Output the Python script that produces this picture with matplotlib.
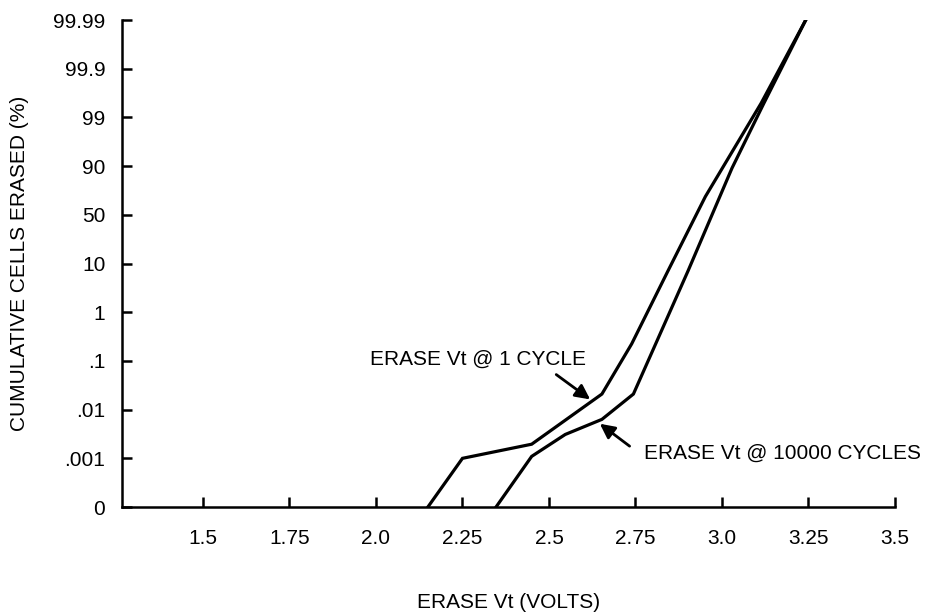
import numpy as np
import matplotlib.pyplot as plt

plt.rcParams['font.family'] = ['Liberation Sans', 'DejaVu Sans']

# y axis is a ladder of equally spaced bands, positions are band index
y_ticklabels = ['0', '.001', '.01', '.1', '1', '10', '50', '90', '99', '99.9', '99.99']
x_ticks = [1.5, 1.75, 2.0, 2.25, 2.5, 2.75, 3.0, 3.25, 3.5]
x_ticklabels = ['1.5', '1.75', '2.0', '2.25', '2.5', '2.75', '3.0', '3.25', '3.5']

# erase Vt distribution after 1 cycle
vt_1cycle = [2.15, 2.25, 2.45, 2.653, 2.739, 2.844, 2.952, 3.113, 3.242]
lvl_1cycle = [0, 1.0, 1.29, 2.32, 3.35, 4.85, 6.375, 8.29, 10]

# erase Vt distribution after 10000 cycles
vt_10k = [2.347, 2.45, 2.547, 2.653, 2.744, 2.902, 3.029, 3.121, 3.242]
lvl_10k = [0, 1.04, 1.49, 1.80, 2.32, 4.85, 6.96, 8.29, 10]

fig = plt.figure(figsize=(9.29, 6.16), dpi=100)
ax = fig.add_axes([0.1313, 0.1769, 0.9634 - 0.1313, 0.9675 - 0.1769])

ax.plot(vt_1cycle, lvl_1cycle, color='black', lw=2.3, solid_joinstyle='miter')
ax.plot(vt_10k, lvl_10k, color='black', lw=2.3, solid_joinstyle='miter')

ax.set_xlim(1.266, 3.5)
ax.set_ylim(0, 10)

ax.set_xticks(x_ticks)
ax.set_xticklabels(x_ticklabels)
ax.set_yticks(np.arange(len(y_ticklabels)))
ax.set_yticklabels(y_ticklabels)

for s in ['top', 'right']:
    ax.spines[s].set_visible(False)
for s in ['left', 'bottom']:
    ax.spines[s].set_linewidth(1.8)

ax.tick_params(axis='x', direction='in', length=7, width=1.8, labelsize=15, pad=16)
ax.tick_params(axis='y', direction='in', length=7, width=1.8, labelsize=15, pad=12)

ax.set_xlabel('ERASE Vt (VOLTS)', fontsize=15, labelpad=32)
ax.set_ylabel('CUMULATIVE CELLS ERASED (%)', fontsize=15, labelpad=17)

arrow = dict(arrowstyle='-|>', color='black', lw=2, mutation_scale=22,
             shrinkA=0, shrinkB=0)
ax.annotate('', xy=(2.619, 2.21), xytext=(2.521, 2.72), arrowprops=arrow)
ax.annotate('', xy=(2.647, 1.71), xytext=(2.733, 1.25), arrowprops=arrow)

ax.text(1.984, 3.04, 'ERASE Vt @ 1 CYCLE', fontsize=15, va='center', ha='left')
ax.text(2.776, 1.1, 'ERASE Vt @ 10000 CYCLES', fontsize=15, va='center', ha='left')

fig.savefig('out.png', dpi=100)
